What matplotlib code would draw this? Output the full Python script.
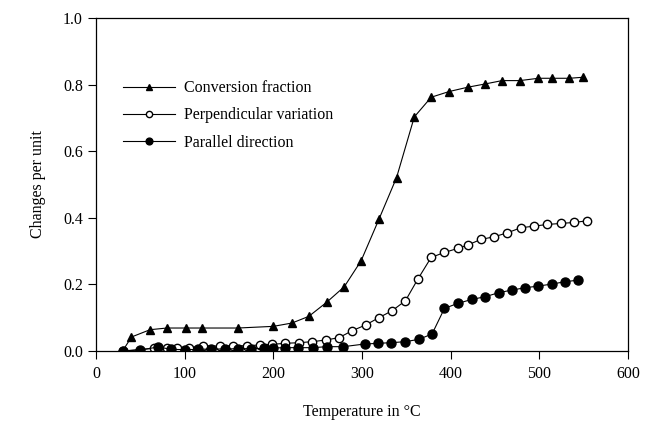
import numpy as np
import matplotlib
matplotlib.use("Agg")
import matplotlib.pyplot as plt

plt.rcParams['font.family'] = ['Liberation Serif', 'DejaVu Serif']

# conversion fraction (triangles)
conv_t = [30, 40, 61, 80, 101, 120, 160, 200, 221, 240, 260, 280, 299, 319, 339,
          359, 378, 398, 419, 439, 458, 478, 499, 514, 534, 549]
conv_y = [0.0, 0.042, 0.064, 0.069, 0.069, 0.069, 0.069, 0.074, 0.084, 0.104, 0.146,
          0.193, 0.271, 0.395, 0.521, 0.703, 0.762, 0.779, 0.792, 0.802, 0.812,
          0.812, 0.819, 0.819, 0.819, 0.822]

# perpendicular variation (open circles)
perp_t = [30, 65, 80, 91, 105, 121, 140, 155, 170, 185, 199, 213, 229, 244, 259, 274,
          289, 304, 319, 334, 349, 363, 378, 393, 408, 419, 434, 449, 464, 479, 494,
          509, 524, 539, 554]
perp_y = [0.0, 0.008, 0.008, 0.010, 0.010, 0.015, 0.015, 0.015, 0.016, 0.018, 0.020,
          0.023, 0.025, 0.028, 0.033, 0.040, 0.061, 0.078, 0.100, 0.121, 0.151, 0.216,
          0.281, 0.296, 0.308, 0.318, 0.335, 0.343, 0.355, 0.370, 0.375, 0.380,
          0.383, 0.386, 0.391]

# parallel direction (filled circles)
para_t = [30, 50, 70, 85, 100, 115, 130, 145, 160, 175, 190, 200, 213, 228, 245, 260,
          279, 303, 318, 333, 349, 364, 379, 393, 408, 424, 439, 454, 469, 484, 499,
          514, 529, 544]
para_y = [0.0, 0.003, 0.012, 0.005, 0.004, 0.005, 0.006, 0.006, 0.007, 0.007, 0.008,
          0.009, 0.010, 0.010, 0.010, 0.013, 0.013, 0.021, 0.023, 0.025, 0.028, 0.035,
          0.051, 0.128, 0.143, 0.155, 0.163, 0.175, 0.183, 0.190, 0.195, 0.201,
          0.208, 0.213]

fig = plt.figure(figsize=(6.45, 4.22), dpi=100)
ax = fig.add_axes([96 / 645, 1 - 351 / 422, 532 / 645, 333 / 422])

ax.plot(conv_t, conv_y, color='black', lw=0.8, marker='^', ms=6,
        mfc='black', mec='black', label='Conversion fraction')
ax.plot(perp_t, perp_y, color='black', lw=0.8, marker='o', ms=6,
        mfc='white', mec='black', mew=1.0, label='Perpendicular variation')
ax.plot(para_t, para_y, color='black', lw=0.8, marker='o', ms=6.5,
        mfc='black', mec='black', label='Parallel direction')

ax.set_xlim(0, 600)
ax.set_ylim(0, 1.0)
ax.set_xticks(np.arange(0, 601, 100))
ax.set_yticks(np.arange(0, 1.01, 0.2))
ax.set_yticklabels([f'{v:.1f}' for v in np.arange(0, 1.01, 0.2)])
ax.tick_params(direction='out', length=6, width=0.8, labelsize=11.5, colors='black')
ax.tick_params(axis='x', pad=5)
for s in ax.spines.values():
    s.set_linewidth(0.9)

ax.set_xlabel('Temperature in \u00b0C', fontsize=11.5, labelpad=16)
ax.set_ylabel('Changes per unit', fontsize=11.5, labelpad=12)

leg = ax.legend(loc='upper left', bbox_to_anchor=(0.05, 0.813), frameon=False,
                borderpad=0, borderaxespad=0, handlelength=3.3, handletextpad=0.55,
                labelspacing=0.7, fontsize=11.5, markerscale=0.75)

fig.savefig('out.png', dpi=100)
